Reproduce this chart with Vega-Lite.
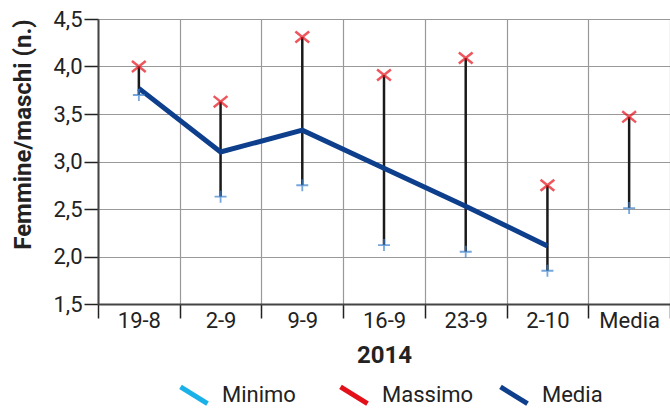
{
  "$schema": "https://vega.github.io/schema/vega-lite/v6.json",
  "width": 572,
  "height": 285,
  "autosize": {"type": "none"},
  "padding": {"left": 98, "top": 19, "right": 0, "bottom": 105},
  "background": "white",
  "config": {
    "view": {"stroke": null},
    "font": "Roboto, sans-serif"
  },
  "data": {
    "values": [
      {"date": "19-8", "min": 3.70, "max": 4.00, "mean": 3.77},
      {"date": "2-9", "min": 2.63, "max": 3.63, "mean": 3.10},
      {"date": "9-9", "min": 2.75, "max": 4.31, "mean": 3.33},
      {"date": "16-9", "min": 2.12, "max": 3.91, "mean": 2.93},
      {"date": "23-9", "min": 2.05, "max": 4.09, "mean": 2.53},
      {"date": "2-10", "min": 1.85, "max": 2.75, "mean": 2.11},
      {"date": "Media", "min": 2.51, "max": 3.47, "mean": null}
    ]
  },
  "encoding": {
    "x": {
      "field": "date", "type": "nominal", "sort": null,
      "scale": {"paddingInner": 0, "paddingOuter": 0},
      "axis": {
        "tickBand": "extent", "grid": true, "gridColor": "#999999", "gridWidth": 1.2,
        "domainColor": "#444444", "domainWidth": 2, "tickColor": "#222222", "tickSize": 14, "tickWidth": 1.5,
        "labelAngle": 0, "labelFontSize": 22, "labelColor": "#222222", "labelPadding": -8,
        "title": "2014", "titleFontSize": 24, "titleFontWeight": "bold", "titleColor": "#222222", "titlePadding": 12
      }
    }
  },
  "layer": [
    {
      "mark": {"type": "rule", "color": "#1a1a1a", "strokeWidth": 2.5},
      "encoding": {
        "y": {
          "field": "min", "type": "quantitative",
          "scale": {"domain": [1.5, 4.5], "nice": false, "zero": false},
          "axis": {
            "values": [1.5, 2, 2.5, 3, 3.5, 4, 4.5],
            "labelExpr": "replace(format(datum.value, '.1f'), '.', ',')",
            "grid": true, "gridColor": "#999999", "gridWidth": 1.2,
            "domainColor": "#444444", "domainWidth": 2, "tickColor": "#222222", "tickSize": 14, "tickWidth": 1.5,
            "labelFontSize": 22, "labelColor": "#222222", "labelPadding": 2,
            "title": "Femmine/maschi (n.)", "titleFontSize": 24, "titleFontWeight": "bold", "titleColor": "#222222",
            "titleX": -68, "titleY": 115, "titleBaseline": "alphabetic", "titleAlign": "center", "titleAngle": -90
          }
        },
        "y2": {"field": "max"}
      }
    },
    {
      "transform": [{"filter": "isValid(datum.mean)"}],
      "mark": {"type": "line", "strokeWidth": 5},
      "encoding": {
        "y": {"field": "mean", "type": "quantitative"},
        "color": {
          "datum": "Media", "type": "nominal",
          "scale": {"domain": ["Minimo", "Massimo", "Media"], "range": ["#1ab0e8", "#e3101a", "#0e3f8c"]},
          "legend": {
            "title": null, "orient": "none", "direction": "horizontal", "legendX": 80, "legendY": 360,
            "symbolType": "M-1,-0.62L1,0.62", "symbolSize": 729, "symbolStrokeWidth": 5,
            "labelFontSize": 22, "labelColor": "#222222", "labelOffset": 12,
            "columnPadding": 16, "gridAlign": "all"
          }
        }
      }
    },
    {
      "mark": {"type": "point", "shape": "M-1,0L1,0M0,-1L0,1", "size": 144, "strokeWidth": 1.8, "color": "#3b82d0", "filled": false},
      "encoding": {"y": {"field": "min", "type": "quantitative"}}
    },
    {
      "mark": {"type": "point", "shape": "M-1,-0.8L1,0.8M-1,0.8L1,-0.8", "size": 190, "strokeWidth": 2.5, "color": "#e8101a", "filled": false},
      "encoding": {"y": {"field": "max", "type": "quantitative"}}
    }
  ]
}
